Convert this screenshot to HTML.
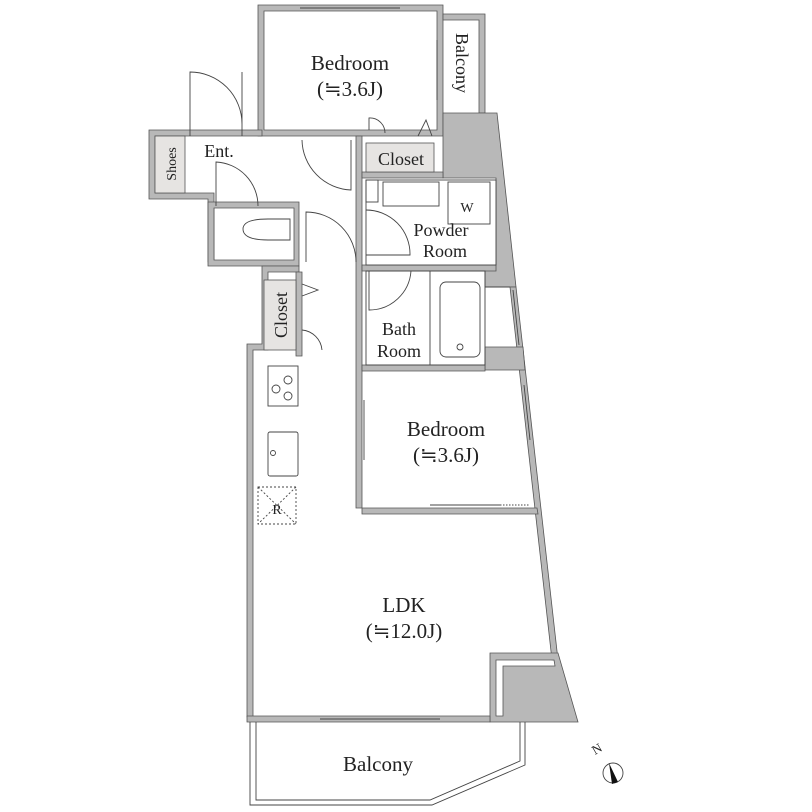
<!DOCTYPE html>
<html><head><meta charset="utf-8"><style>
html,body{margin:0;padding:0;background:#fff;}
svg{display:block;}
text{font-family:"Liberation Serif",serif;fill:#222;}
</style></head><body>
<svg width="812" height="812" viewBox="0 0 812 812" xmlns="http://www.w3.org/2000/svg">
<g fill="#b8b8b8" stroke="#555" stroke-width="0.8">
<path d="M258,5 H443 V136 H258 Z M264,11 V130 H437 V11 Z" fill-rule="evenodd"/>
<path d="M443,14 H485 V113 H479 V20 H443 Z"/>
<path d="M443,113 H497 L516,287 H485 V265 H496 V178 H443 Z"/>
<path d="M510,287 L516,287 L558,660 L552,660 Z"/>
<path d="M485,347 H523 L525,370 H485 Z"/>
<path d="M490,653 H558 L578,722 H490 Z M496,660 V716 H503 V666 H555 L554,660 Z" fill-rule="evenodd"/>
<path d="M149,130 H262 V136 H155 V193 H214 V262 H208 V199 H149 Z"/>
<path d="M208,202 H299 V266 H208 Z M214,208 V260 H294 V208 Z" fill-rule="evenodd"/>
<path d="M262,266 H299 V272 H268 V350 H253 V717 H247 V344 H262 Z"/>
<path d="M296,272 H302 V356 H296 Z"/>
<path d="M356,136 H362 V508 H356 Z"/>
<path d="M362,172 H443 V178 H362 Z"/>
<path d="M362,265 H496 V271 H362 Z"/>
<path d="M362,365 H485 V371 H362 Z"/>
<path d="M362,508 H537 L538,514 H362 Z"/>
<path d="M247,716 H490 V722 H247 Z"/>
</g>
<rect x="366" y="143" width="68" height="29" fill="#e6e4e2" stroke="#555" stroke-width="0.8"/>
<rect x="155" y="136" width="30" height="57" fill="#e6e4e2" stroke="#555" stroke-width="0.8"/>
<rect x="264" y="280" width="32" height="70" fill="#e6e4e2" stroke="#555" stroke-width="0.8"/>
<g fill="none" stroke="#444" stroke-width="0.9">
<rect x="366" y="180" width="130" height="85" fill="#fff"/>
<rect x="366" y="271" width="119" height="94"/>
<line x1="430" y1="271" x2="430" y2="365"/>
<rect x="440" y="282" width="40" height="75" rx="6"/>
<circle cx="460" cy="347" r="3"/>
<rect x="366" y="180" width="12" height="22"/>
<rect x="383" y="182" width="56" height="24"/>
<rect x="448" y="182" width="42" height="42"/>
<line x1="485" y1="287" x2="510" y2="287"/>
<line x1="513" y1="290" x2="519" y2="345"/>
<line x1="524" y1="385" x2="530" y2="440"/>
<rect x="268" y="366" width="30" height="40"/>
<circle cx="276" cy="389" r="4"/><circle cx="288" cy="380" r="4"/><circle cx="288" cy="396" r="4"/>
<rect x="268" y="432" width="30" height="44" rx="2"/>
<circle cx="273" cy="453" r="2.5"/>
<rect x="258" y="487" width="38" height="37" stroke-dasharray="2,2"/>
<line x1="258" y1="487" x2="296" y2="524" stroke-dasharray="2,2"/>
<line x1="296" y1="487" x2="258" y2="524" stroke-dasharray="2,2"/>
<path d="M268,219 H290 V240 H268 Q243,240 243,229 Q243,219 268,219 Z"/>
<path d="M190,136 V72 A52,52 0 0 1 242,124 M242,72 V136"/>
<path d="M216,206 V162 A44,44 0 0 1 258,206"/>
<path d="M302,140 A51,51 0 0 0 351,190 V140"/>
<path d="M306,262 V212 A50,50 0 0 1 356,262"/>
<path d="M366,210 A44,44 0 0 1 410,255 H366"/>
<path d="M369,271 V310 A42,42 0 0 0 411,271"/>
<path d="M302,330 A22,22 0 0 1 322,350"/>
<path d="M369,130 V118 A15,15 0 0 1 385,133"/>
<path d="M418,136 L426,120 L432,136"/>
<path d="M302,284 L318,290 L302,296"/>
<path d="M250,722 V805 H432 L525,765 V722"/>
<path d="M256,722 V800 H430 L520,761 V722"/>
<line x1="364" y1="400" x2="364" y2="460"/>
<line x1="430" y1="505" x2="500" y2="505"/>
<line x1="500" y1="505" x2="530" y2="505" stroke-dasharray="1.5,1.5"/>
<line x1="320" y1="719" x2="440" y2="719"/>
<line x1="437" y1="40" x2="437" y2="100"/>
<line x1="300" y1="8" x2="400" y2="8"/>
<circle cx="613" cy="773" r="10"/>
</g>
<path d="M609,763 L618,782 L612,784 Z" fill="#111"/>
<text x="595" y="755" font-size="13" transform="rotate(-30 595 755)">N</text>
<g font-size="21" text-anchor="middle">
<text x="350" y="70">Bedroom</text>
<text x="350" y="96">(≒3.6J)</text>
<text x="446" y="436">Bedroom</text>
<text x="446" y="462">(≒3.6J)</text>
<text x="404" y="612">LDK</text>
<text x="404" y="638">(≒12.0J)</text>
<text x="378" y="771">Balcony</text>
<text x="441" y="236" font-size="18">Powder</text>
<text x="445" y="257" font-size="18">Room</text>
<text x="399" y="335" font-size="18">Bath</text>
<text x="399" y="357" font-size="18">Room</text>
<text x="401" y="165" font-size="18">Closet</text>
<text x="219" y="157" font-size="18">Ent.</text>
<text x="467" y="212" font-size="14">W</text>
<text x="277" y="514" font-size="14">R</text>
<text x="0" y="0" font-size="18" transform="translate(287 315) rotate(-90)">Closet</text>
<text x="0" y="0" font-size="14" transform="translate(176 164) rotate(-90)">Shoes</text>
<text x="0" y="0" font-size="18" transform="translate(456 63) rotate(90)">Balcony</text>
</g>
</svg>
</body></html>
